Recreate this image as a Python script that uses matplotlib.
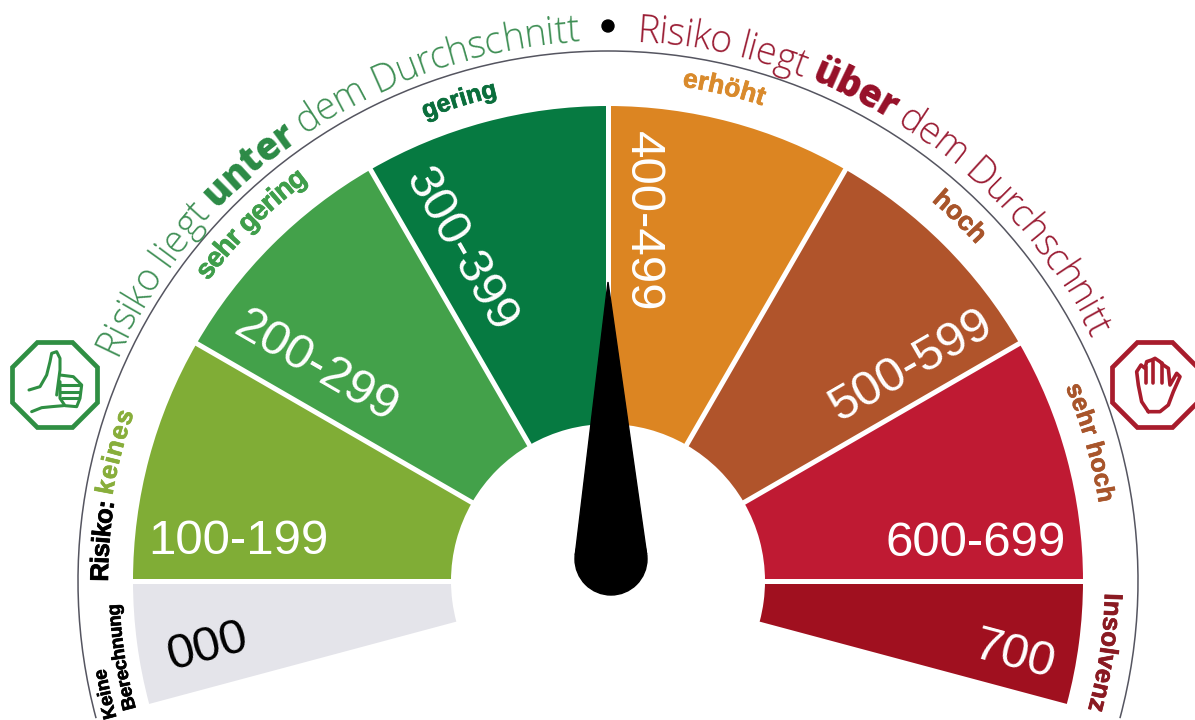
import numpy as np
import matplotlib
matplotlib.use("Agg")
import matplotlib.pyplot as plt
import matplotlib.patheffects as pe
from matplotlib.patches import Wedge, Arc, Circle, Polygon, RegularPolygon
from matplotlib.font_manager import FontProperties
from matplotlib.textpath import text_to_path

# ---- gauge bands ----
score_labels = ["000", "100-199", "200-299", "300-399", "400-499", "500-599", "600-699", "700"]
band_edges = [195, 180, 150, 120, 90, 60, 30, 0, -15]
band_colors = ["#e4e4ea", "#80ad36", "#43a14a", "#067a41", "#dc8522", "#b0542b", "#bf1a33", "#a0101f"]
score_text_colors = ["black"] + ["white"] * 7
score_x = [-401, -370, -292, -148, 34, 303, 368, 406]
score_y = [-66, 39, 214, 331, 360, 215, 37, -75]
score_rot = [15, 0, -30, -60, -90, 30, 0, -15]

# ---- risk words on the arc: text, start angle, end angle, radius, colour, size ----
risk_words = ["Keine", "Berechnung", "Risiko:", "keines", "sehr gering", "gering", "erhöht", "hoch", "sehr hoch", "Insolvenz"]
risk_start = [195.5, 195.1, 180.0, 170.3, 143.1, 111.6, 81.5, 49.6, 23.0, -1.4]
risk_end = [189.9, 182.7, 170.9, 160.4, 126.9, 102.8, 72.0, 42.4, 9.0, -15.0]
risk_radius = [510, 489, 500, 503, 500, 497, 500, 499, 497, 497]
risk_colors = ["black", "black", "black", "#88ae3b", "#3f9e4b", "#0a6e3c", "#d98a2c", "#a8552b", "#a8552b", "#8a1a22"]
risk_sizes = [13.5, 13.5, 18.5, 18.5, 20, 18, 19, 19, 18, 18.6]

# ---- headline segments ----
left_head = [("Risiko liegt ", "light"), ("unter", "extra bold"), (" dem Durchschnitt", "light")]
right_head = [("Risiko liegt ", "light"), ("über", "extra bold"), (" dem Durchschnitt", "light")]
left_span = (155.5, 93.0)
right_span = (87.0, 26.8)

# ---- needle ----
needle_tip = (0, 299)
needle_hub = (3, 22)
needle_radius = 36

# ---- icon sketches, in 100 px crop units ----
thumb_lines = [
    [(72, 165), (105, 155), (125, 120), (135, 80), (140, 55), (155, 50), (165, 70), (165, 105), (155, 180)],
    [(165, 120), (205, 125), (230, 150), (225, 190), (215, 215), (180, 212), (165, 190), (165, 140)],
    [(165, 150), (225, 150)],
    [(165, 170), (225, 170)],
    [(170, 190), (220, 190)],
    [(80, 230), (110, 218), (140, 215), (175, 212)],
]
hand_lines = [
    [(130, 230), (110, 200), (100, 150), (95, 110), (108, 90), (120, 100), (125, 80), (140, 75), (150, 70),
     (165, 80), (175, 90), (190, 100), (195, 150), (215, 115), (225, 125), (205, 170), (190, 210), (165, 230), (130, 230)],
    [(122, 95), (122, 145)],
    [(145, 75), (145, 145)],
    [(170, 85), (170, 145)],
]

CX, CY = 608, 581
R_OUT, R_IN = 475, 157

fig = plt.figure(figsize=(11.95, 7.2), dpi=100)
ax = fig.add_axes([0, 0, 1, 1])
ax.set_xlim(-CX, 1195 - CX)
ax.set_ylim(CY - 720, CY)
ax.set_aspect("equal")
ax.axis("off")


def arc_text(segments, a0, a1, radius, size, family, stroke=0.0):
    """Lay out (text, weight, colour) segments along the arc from a0 to a1."""
    chars = []
    pos = 0.0
    for text, weight, color in segments:
        prop = FontProperties(family=family, weight=weight, size=size)
        for i, ch in enumerate(text):
            w0 = text_to_path.get_text_width_height_descent(text[:i], prop, False)[0] if i else 0.0
            w1 = text_to_path.get_text_width_height_descent(text[:i + 1], prop, False)[0]
            chars.append((ch, pos + (w0 + w1) / 2, prop, color))
        pos += text_to_path.get_text_width_height_descent(text, prop, False)[0]
    for ch, p, prop, color in chars:
        if ch == " ":
            continue
        a = a0 + (a1 - a0) * p / pos
        t = np.deg2rad(a)
        txt = ax.text(radius * np.cos(t), radius * np.sin(t), ch, fontproperties=prop, color=color,
                      rotation=a - 90, rotation_mode="anchor", ha="center", va="baseline")
        if stroke:
            txt.set_path_effects([pe.withStroke(linewidth=stroke, foreground=color)])


# bands
for i in range(len(score_labels)):
    ax.add_patch(Wedge((0, 0), R_OUT, band_edges[i + 1], band_edges[i], width=R_OUT - R_IN,
                       facecolor=band_colors[i], edgecolor="none", zorder=2))
# separators
for a in band_edges[1:-1]:
    t = np.deg2rad(a)
    ax.plot([(R_IN - 6) * np.cos(t), (R_OUT + 6) * np.cos(t)], [(R_IN - 6) * np.sin(t), (R_OUT + 6) * np.sin(t)],
            color="white", lw=3.6, solid_capstyle="butt", zorder=3)

# score labels
for lab, x, y, r, c in zip(score_labels, score_x, score_y, score_rot, score_text_colors):
    ax.text(x, y, lab, color=c, rotation=r, rotation_mode="anchor", ha="center", va="center",
            fontsize=35.5, family="Liberation Sans", zorder=4)

# outer arc
ax.add_patch(Arc((0, 0), 1060, 1060, theta1=-15, theta2=195, color="#555560", lw=1.1, zorder=1))

# risk words
for w, a0, a1, rad, c, s in zip(risk_words, risk_start, risk_end, risk_radius, risk_colors, risk_sizes):
    arc_text([(w, "bold", c)], a0, a1, rad, s, "Liberation Sans", stroke=0.5)

# headlines
green = "#3f8f55"
red = "#9a1c33"
arc_text([(t, w, "#2b8a45" if w != "light" else green) for t, w in left_head], left_span[0], left_span[1], 540, 27, "Open Sans")
arc_text([(t, w, "#960f28" if w != "light" else red) for t, w in right_head], right_span[0], right_span[1], 540, 27, "Open Sans")
ax.add_patch(Circle((0, 555), 6, color="black", zorder=5))

# needle
hx, hy = needle_hub
tx, ty = needle_tip
d = np.hypot(tx - hx, ty - hy)
base = np.arctan2(ty - hy, tx - hx)
off = np.arccos(needle_radius / d)
p1 = (hx + needle_radius * np.cos(base + off), hy + needle_radius * np.sin(base + off))
p2 = (hx + needle_radius * np.cos(base - off), hy + needle_radius * np.sin(base - off))
ax.add_patch(Polygon([needle_tip, p1, p2], closed=True, color="black", zorder=6))
ax.add_patch(Circle(needle_hub, needle_radius, color="black", zorder=6))


# icons
def sketch(lines, ox, oy, color, lw):
    for ln in lines:
        arr = np.array(ln, float)
        ax.plot(ox + arr[:, 0] / 3 - CX, CY - (oy + arr[:, 1] / 3), color=color, lw=lw,
                solid_capstyle="round", solid_joinstyle="round", zorder=5)


ax.add_patch(RegularPolygon((55 - CX, CY - 385), 8, radius=42.5 / np.cos(np.pi / 8), orientation=np.pi / 8,
                            facecolor="white", edgecolor="#2f8f43", lw=3.4, zorder=4))
sketch(thumb_lines, 5, 335, "#2f8f43", 2.2)
ax.add_patch(RegularPolygon((1155 - CX, CY - 385), 8, radius=42.5 / np.cos(np.pi / 8), orientation=np.pi / 8,
                            facecolor="white", edgecolor="#a81c2c", lw=3.4, zorder=4))
sketch(hand_lines, 1105, 335, "#a81c2c", 2.6)

fig.savefig("out.png", dpi=100)
